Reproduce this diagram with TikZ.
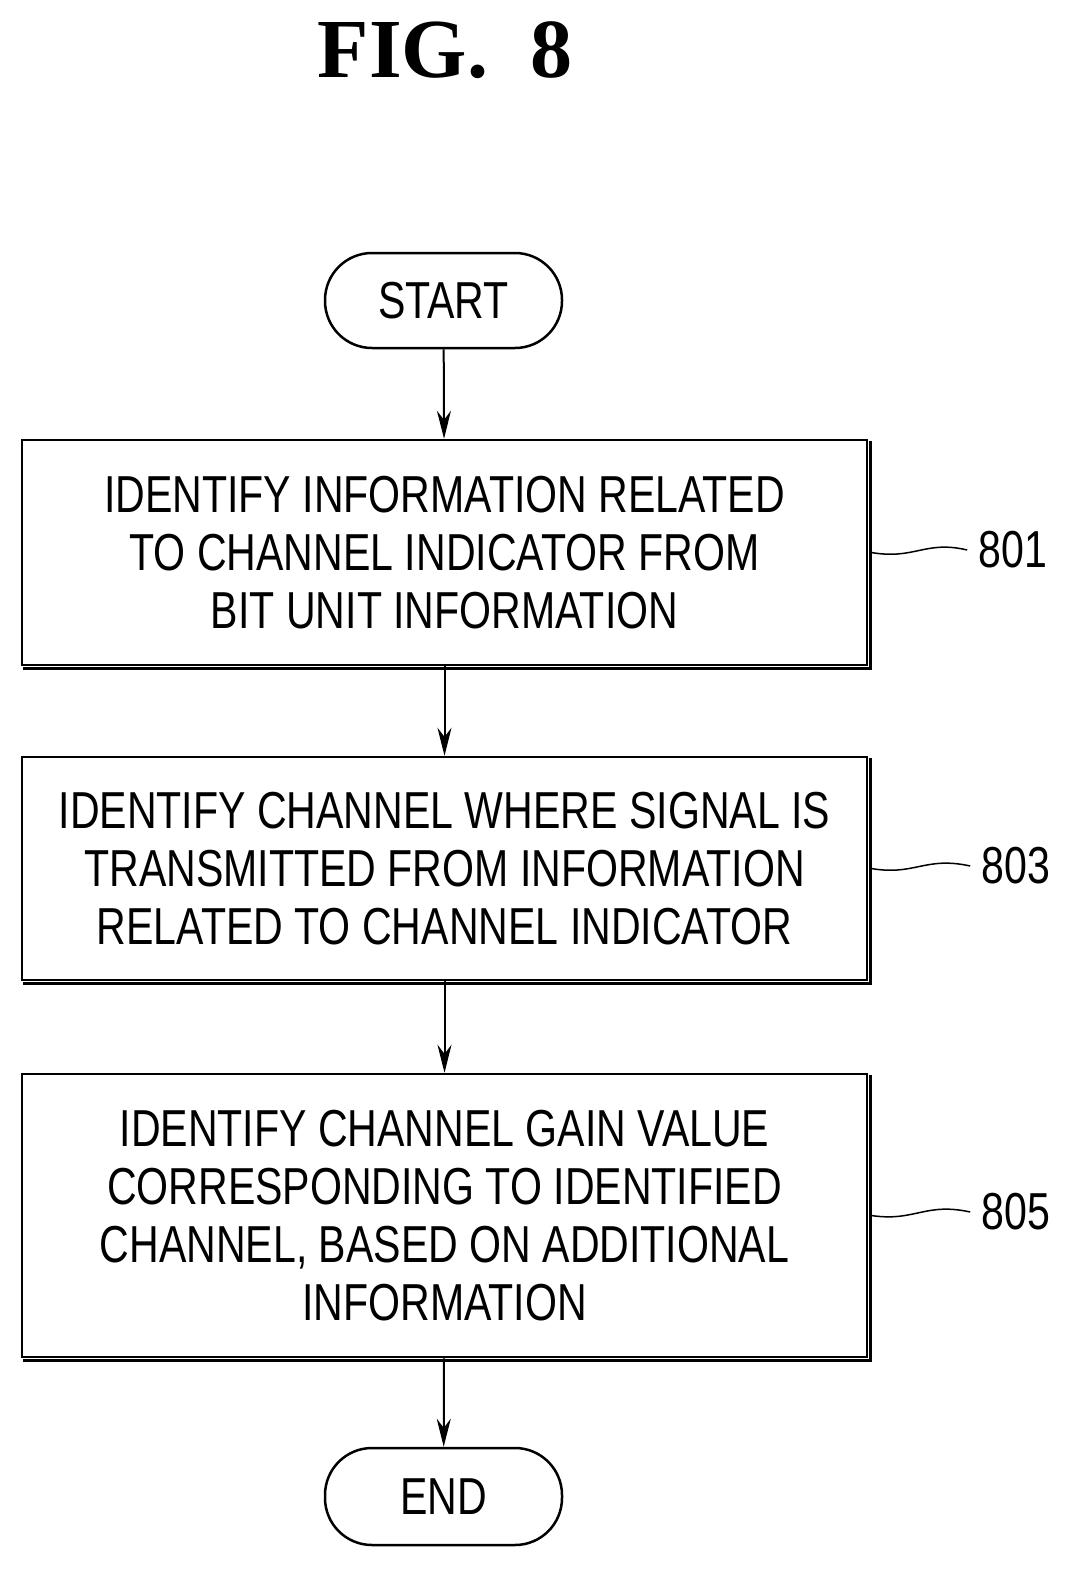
\documentclass[tikz,border=0pt]{standalone}
\usetikzlibrary{arrows.meta}
\usepackage{fontspec}
\setmainfont{Liberation Serif}
\newfontfamily\cond[FakeStretch=0.79]{Liberation Sans}
\begin{document}
\begin{tikzpicture}[x=1pt,y=-1pt,
  box/.style={draw,line width=2.5pt,align=center,font=\cond\fontsize{52}{58}\selectfont,inner sep=0pt},
  term/.style={draw,line width=2.5pt,rounded corners=47pt,font=\cond\fontsize{52}{58}\selectfont,inner sep=0pt},
  arr/.style={line width=2pt,-{Stealth[length=28pt,width=14pt]}},
  lbl/.style={font=\cond\fontsize{52}{58}\selectfont},
  lead/.style={line width=1.5pt}]
\useasboundingbox (0,0) rectangle (1078,1580);
\node[font=\bfseries\fontsize{84}{90}\selectfont] (title) at (445,50) {FIG.\ \ 8};
\node[term,minimum width=237pt,minimum height=95pt] (start) at (443.5,300.5) {START};
\node[box,minimum width=845pt,minimum height=225pt] (b1) at (444.5,552.5) {IDENTIFY INFORMATION RELATED\\TO CHANNEL INDICATOR FROM\\BIT UNIT INFORMATION};
\node[box,minimum width=845pt,minimum height=223pt] (b2) at (444.5,868.5) {IDENTIFY CHANNEL WHERE SIGNAL IS\\TRANSMITTED FROM INFORMATION\\RELATED TO CHANNEL INDICATOR};
\node[box,minimum width=845pt,minimum height=283pt] (b3) at (444.5,1215.5) {IDENTIFY CHANNEL GAIN VALUE\\CORRESPONDING TO IDENTIFIED\\CHANNEL, BASED ON ADDITIONAL\\INFORMATION};
\node[term,minimum width=237pt,minimum height=97pt] (end) at (443.5,1496.5) {END};
\foreach \b in {b1,b2,b3}{
  \draw[line width=3pt] ([shift={(2.5,2)}]\b.north east) -- ([shift={(2.5,2.5)}]\b.south east) -- ([shift={(2,2.5)}]\b.south west);}
\draw[arr] (start) -- (b1);
\draw[arr] (b1) -- (b2);
\draw[arr] (b2) -- (b3);
\draw[arr] (b3) -- (end);
\node[lbl] (l1) at (1013,550) {801};
\node[lbl] (l2) at (1016,866) {803};
\node[lbl] (l3) at (1016,1212) {805};
\draw[lead] ([xshift=3pt]b1.east) .. controls (915,560) and (925,540) .. ([xshift=-8pt]l1.west);
\draw[lead] ([xshift=3pt]b2.east) .. controls (915,876) and (925,856) .. ([xshift=-8pt]l2.west);
\draw[lead] ([xshift=3pt]b3.east) .. controls (915,1222) and (925,1202) .. ([xshift=-8pt]l3.west);
\end{tikzpicture}
\end{document}
